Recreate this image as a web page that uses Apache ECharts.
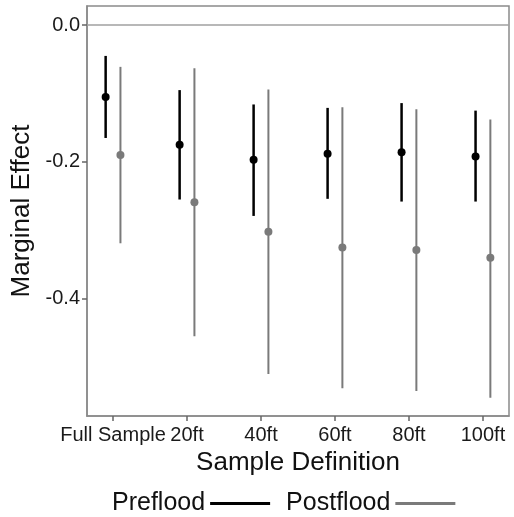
<!DOCTYPE html>
<html>
<head>
<meta charset="utf-8">
<script src="https://cdn.jsdelivr.net/npm/echarts@6/dist/echarts.min.js"></script>
<style>
html, body { margin: 0; padding: 0; background: #fff; }
#chart { width: 514px; height: 517px; }
</style>
</head>
<body>
<div id="chart"></div>
<script>
var categories = ["Full Sample", "20ft", "40ft", "60ft", "80ft", "100ft"];
var yTicks = [-0.4, -0.2, 0.0];

// preflood estimates with interval bounds
var preEst = [-0.105, -0.175, -0.197, -0.188, -0.186, -0.192];
var preLow = [-0.165, -0.255, -0.279, -0.254, -0.258, -0.258];
var preHigh = [-0.045, -0.095, -0.116, -0.121, -0.114, -0.125];

// postflood
var postEst = [-0.190, -0.259, -0.302, -0.325, -0.329, -0.340];
var postLow = [-0.319, -0.455, -0.510, -0.531, -0.535, -0.545];
var postHigh = [-0.061, -0.063, -0.094, -0.120, -0.123, -0.138];

var FONT = "Liberation Sans, Arial, sans-serif";

function buildRows(est, low, high, shift) {
    return categories.map(function (c, i) {
        return [i + 1 + shift, est[i], low[i], high[i]];
    });
}

function errorBar(color, lineW, radius) {
    return function (params, api) {
        var x = api.value(0);
        var top = api.coord([x, api.value(3)]);
        var bot = api.coord([x, api.value(2)]);
        var mid = api.coord([x, api.value(1)]);
        return {
            type: "group",
            children: [
                {
                    type: "line",
                    shape: { x1: top[0], y1: top[1], x2: bot[0], y2: bot[1] },
                    style: { stroke: color, lineWidth: lineW }
                },
                {
                    type: "circle",
                    shape: { cx: mid[0], cy: mid[1], r: radius },
                    style: { fill: color }
                }
            ]
        };
    };
}

var chart = echarts.init(document.getElementById("chart"));
chart.setOption({
    animation: false,
    backgroundColor: "#fff",
    grid: {
        left: 87, right: 5, top: 6, bottom: 101,
        show: true, borderColor: "#8a8a8a", borderWidth: 1.5
    },
    legend: {
        left: 107,
        top: 486,
        align: "right",
        itemWidth: 60,
        itemHeight: 3,
        itemGap: 16,
        textStyle: { fontFamily: FONT, fontSize: 25, color: "#111" },
        data: [
            { name: "Preflood", icon: "rect" },
            { name: "Postflood", icon: "rect" }
        ]
    },
    xAxis: {
        type: "value",
        min: 0.648,
        max: 6.352,
        name: "Sample Definition",
        nameLocation: "middle",
        nameGap: 28,
        nameTextStyle: { fontFamily: FONT, fontSize: 26, color: "#111" },
        axisLine: { show: true, onZero: false, lineStyle: { color: "#8a8a8a", width: 1.5 } },
        axisTick: {
            show: true, length: 5, customValues: [1, 2, 3, 4, 5, 6],
            lineStyle: { color: "#666", width: 1.5 }
        },
        axisLabel: {
            customValues: [1, 2, 3, 4, 5, 6],
            margin: 9,
            fontFamily: FONT, fontSize: 20, color: "#1a1a1a",
            formatter: function (v) { return categories[Math.round(v) - 1]; }
        },
        splitLine: { show: false }
    },
    yAxis: {
        type: "value",
        min: -0.5716,
        max: 0.028,
        name: "Marginal Effect",
        nameLocation: "middle",
        nameGap: 45,
        nameTextStyle: { fontFamily: FONT, fontSize: 26, color: "#111" },
        axisLine: { show: true, onZero: false, lineStyle: { color: "#8a8a8a", width: 1.5 } },
        axisTick: {
            show: true, length: 5, customValues: yTicks,
            lineStyle: { color: "#666", width: 1.5 }
        },
        axisLabel: {
            customValues: yTicks,
            margin: 7,
            fontFamily: FONT, fontSize: 20, color: "#1a1a1a",
            formatter: function (v) { return (Math.abs(v) < 1e-9 ? 0 : v).toFixed(1); }
        },
        splitLine: { show: false }
    },
    series: [
        {
            name: "Preflood",
            type: "custom",
            itemStyle: { color: "#000" },
            renderItem: errorBar("#000", 2.5, 4),
            data: buildRows(preEst, preLow, preHigh, -0.1),
            markLine: {
                silent: true,
                symbol: "none",
                label: { show: false },
                lineStyle: { color: "#a0a0a0", width: 1.5, type: "solid" },
                data: [{ yAxis: 0 }]
            },
            z: 3
        },
        {
            name: "Postflood",
            type: "custom",
            itemStyle: { color: "#7a7a7a" },
            renderItem: errorBar("#7a7a7a", 2, 4),
            data: buildRows(postEst, postLow, postHigh, 0.1),
            z: 2
        }
    ]
});
</script>
</body>
</html>
